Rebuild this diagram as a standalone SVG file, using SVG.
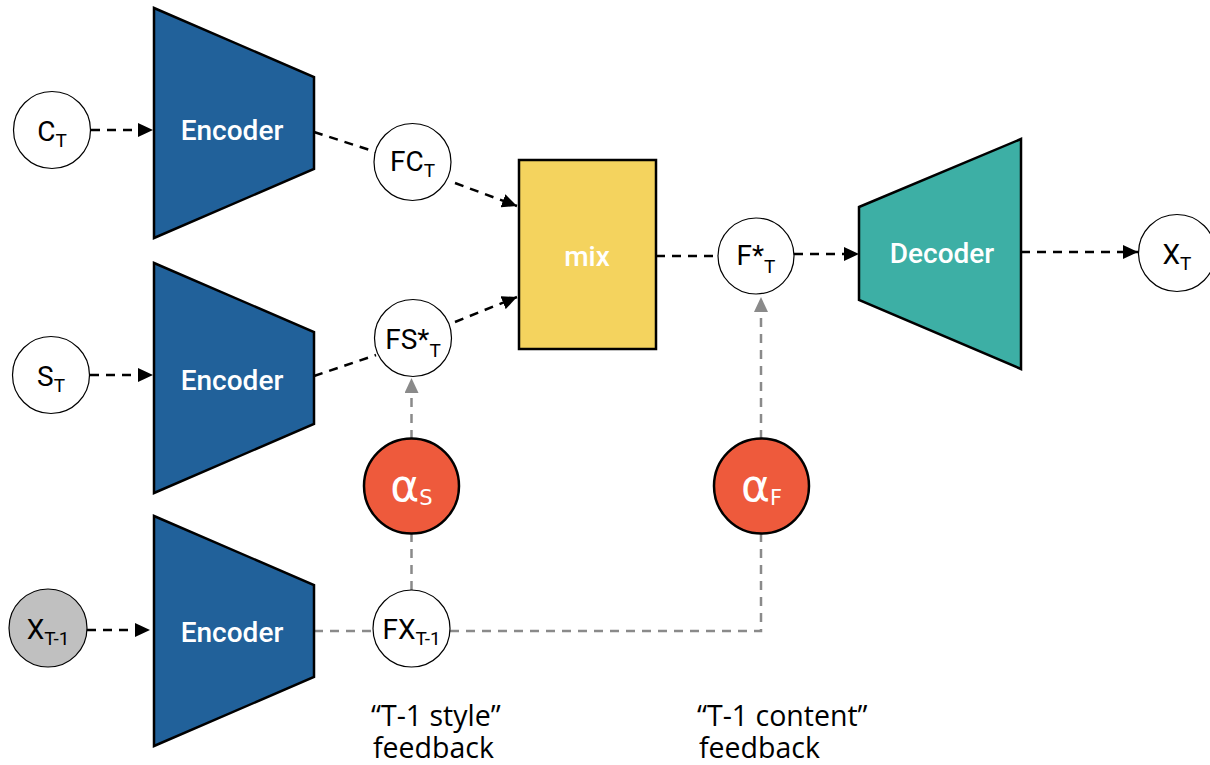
<svg xmlns="http://www.w3.org/2000/svg" width="1210" height="765" viewBox="0 0 1210 765">
<style>
.blk{fill:none;stroke:#000;stroke-width:2.5;stroke-dasharray:9 7}
.gry{fill:none;stroke:#8a8a8a;stroke-width:2.5;stroke-dasharray:9 7}
.enc{fill:#21619A;stroke:#000;stroke-width:2.5}
.dec{fill:#3DAFA5;stroke:#000;stroke-width:2.5}
.node{fill:#fff;stroke:#000;stroke-width:1.2}
.alpha{fill:#EE5A3C;stroke:#000;stroke-width:2.5}
.lbl{font-family:Roboto,"DejaVu Sans",sans-serif;font-size:28px;fill:#000;text-anchor:middle}
.wl{font-family:Roboto,"DejaVu Sans",sans-serif;font-size:28px;fill:#fff;text-anchor:middle;font-weight:500}
.sub{font-size:19px}
.al{font-family:"DejaVu Sans",sans-serif;font-size:44px;fill:#fff;text-anchor:middle}
.note{font-family:"Open Sans","Noto Sans",sans-serif;font-size:28.5px;fill:#000}
</style>
<defs>
<marker id="ab" markerUnits="userSpaceOnUse" markerWidth="16" markerHeight="14" refX="15" refY="7" orient="auto"><path d="M0,0 L15,7 L0,14 z" fill="#000"/></marker>
<marker id="ag" markerUnits="userSpaceOnUse" markerWidth="16" markerHeight="14" refX="15" refY="7" orient="auto"><path d="M0,0 L15,7 L0,14 z" fill="#8a8a8a"/></marker>
</defs>
<g id="connectors">
<line class="blk" x1="91" y1="130" x2="153" y2="130" marker-end="url(#ab)"/>
<line class="blk" x1="90" y1="375" x2="153" y2="375" marker-end="url(#ab)"/>
<line class="blk" x1="87" y1="630" x2="150" y2="630" marker-end="url(#ab)"/>
<line class="blk" x1="314" y1="132" x2="376" y2="152"/>
<line class="blk" x1="455" y1="183" x2="517" y2="206" marker-end="url(#ab)"/>
<line class="blk" x1="314" y1="376" x2="376" y2="355"/>
<line class="blk" x1="455" y1="322" x2="517" y2="297" marker-end="url(#ab)"/>
<line class="blk" x1="656" y1="256" x2="718" y2="256"/>
<line class="blk" x1="794" y1="254" x2="859" y2="254" marker-end="url(#ab)"/>
<line class="blk" x1="1021" y1="252" x2="1138" y2="252" marker-end="url(#ab)"/>
<line class="gry" x1="314" y1="631" x2="373" y2="631"/>
<polyline class="gry" points="450,631 761,631 761,534"/>
<line class="gry" x1="411.5" y1="590" x2="411.5" y2="534"/>
<line class="gry" x1="411.5" y1="439" x2="411.5" y2="378" marker-end="url(#ag)"/>
<line class="gry" x1="761" y1="439" x2="761" y2="297" marker-end="url(#ag)"/>
</g>
<g id="enc1"><path class="enc" d="M154,8 L314,77 L314,169 L154,238 Z"/><text class="wl" x="232" y="140">Encoder</text></g>
<g id="enc2"><path class="enc" d="M154,263 L314,332 L314,424 L154,493 Z"/><text class="wl" x="232" y="390">Encoder</text></g>
<g id="enc3"><path class="enc" d="M154,516 L314,585 L314,677 L154,746 Z"/><text class="wl" x="232" y="642">Encoder</text></g>
<g id="decoder"><path class="dec" d="M859,207 L1021,139 L1021,369 L859,300 Z"/><text class="wl" x="942" y="263">Decoder</text></g>
<g id="mix"><rect x="519" y="160" width="137" height="189" fill="#F4D35E" stroke="#000" stroke-width="2.5"/><text class="wl" x="587" y="266" font-weight="400">mix</text></g>
<g id="ct"><circle class="node" cx="52" cy="130" r="38.5"/><text class="lbl" x="52" y="141">C<tspan class="sub" dy="6">T</tspan></text></g>
<g id="st"><circle class="node" cx="51" cy="375" r="38.5"/><text class="lbl" x="51" y="386">S<tspan class="sub" dy="6">T</tspan></text></g>
<g id="xt1"><circle cx="48" cy="628" r="39" fill="#C0C0C0" stroke="#000" stroke-width="1.2"/><text class="lbl" x="48" y="639">X<tspan class="sub" dy="6">T-1</tspan></text></g>
<g id="fct"><circle class="node" cx="412.5" cy="162" r="38.5"/><text class="lbl" x="412.5" y="171">FC<tspan class="sub" dy="6">T</tspan></text></g>
<g id="fst"><circle class="node" cx="413" cy="338" r="38.5"/><text class="lbl" x="413" y="349">FS*<tspan class="sub" dy="8">T</tspan></text></g>
<g id="fxt1"><circle class="node" cx="411.5" cy="628.5" r="38.5"/><text class="lbl" x="411.5" y="639">FX<tspan class="sub" dy="6">T-1</tspan></text></g>
<g id="ft"><circle class="node" cx="756" cy="256" r="38"/><text class="lbl" x="756" y="265">F*<tspan class="sub" dy="8">T</tspan></text></g>
<g id="xt"><circle class="node" cx="1177" cy="253" r="38.5"/><text class="lbl" x="1177" y="264">X<tspan class="sub" dy="6">T</tspan></text></g>
<g id="alphaS"><circle class="alpha" cx="411.5" cy="486" r="47.5"/><text class="al" x="411.5" y="501">α<tspan font-size="21" dy="4">S</tspan></text></g>
<g id="alphaF"><circle class="alpha" cx="761.5" cy="486" r="47.5"/><text class="al" x="761.5" y="501">α<tspan font-size="21" dy="4">F</tspan></text></g>
<text class="note" x="371" y="726">“T-1 style”</text>
<text class="note" x="373" y="758">feedback</text>
<text class="note" x="697" y="726">“T-1 content”</text>
<text class="note" x="699" y="758">feedback</text>
</svg>
